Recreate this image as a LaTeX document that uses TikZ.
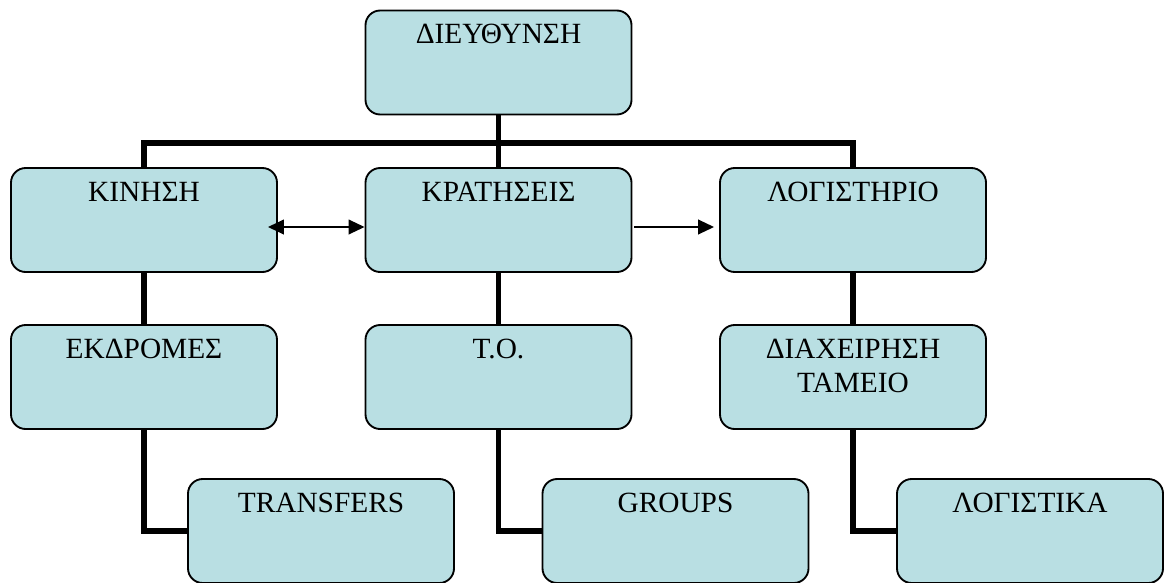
\documentclass[tikz,border=0pt]{standalone}
\usepackage{fontspec}
\setmainfont{Liberation Serif}
\usetikzlibrary{arrows.meta,positioning}
\definecolor{boxblue}{RGB}{185,223,227}

\begin{document}
\begin{tikzpicture}[x=0.75pt, y=-0.75pt,
  unit/.style={draw, line width=1.4pt, fill=boxblue, rounded corners=11pt,
    minimum width=199.5pt, inner xsep=0pt, inner ysep=0pt,
    text height=24.75pt, text depth=53.25pt, align=center,
    font=\fontsize{22}{25.5}\selectfont},
  bar/.style={line width=3.8pt},
  tip/.style={Triangle[length=12pt,width=11pt]},
  link/.style={line width=1.4pt}]
  \useasboundingbox (0,0) rectangle (1169,582);

  % Management
  \node[unit] (dir) at (498.5,62.5) {ΔΙΕΥΘΥΝΣΗ};

  % Departments
  \node[unit] (kin) at (144,220) {ΚΙΝΗΣΗ};
  \node[unit] (kra) at (498.5,220) {ΚΡΑΤΗΣΕΙΣ};
  \node[unit] (log) at (853,220) {ΛΟΓΙΣΤΗΡΙΟ};

  % Sections
  \node[unit] (ekd) at (144,377) {ΕΚΔΡΟΜΕΣ};
  \node[unit] (to) at (498.5,377) {Τ.Ο.};
  \node[unit, text height=50.25pt, text depth=27.75pt] (dt) at (853,377) {ΔΙΑΧΕΙΡΗΣΗ\\ΤΑΜΕΙΟ};

  % Sub-sections
  \node[unit] (trans) at (321,531) {TRANSFERS};
  \node[unit] (grp) at (675.5,531) {GROUPS};
  \node[unit] (lgk) at (1030,531) {ΛΟΓΙΣΤΙΚΑ};

  % Tree lines
  \coordinate (bus) at (498.5,143);
  \draw[bar] (dir.south) -- (kra.north);
  \draw[bar] (kin.north) |- (bus) -| (log.north);
  \draw[bar] (kin.south) -- (ekd.north);
  \draw[bar] (kra.south) -- (to.north);
  \draw[bar] (log.south) -- (dt.north);
  \draw[bar] (ekd.south) |- (trans.west);
  \draw[bar] (to.south) |- (grp.west);
  \draw[bar] (dt.south) |- (lgk.west);

  % Flows between departments
  \draw[link, {Triangle[length=12pt,width=11pt]}-{Triangle[length=12pt,width=11pt]}]
    ([xshift=-7.5pt,yshift=-5.25pt]kin.east) -- ([yshift=-5.25pt]kra.west);
  \draw[link, -{Triangle[length=12pt,width=11pt]}]
    ([xshift=1.5pt,yshift=-5.25pt]kra.east) -- ([xshift=-3.75pt,yshift=-5.25pt]log.west);
\end{tikzpicture}
\end{document}
